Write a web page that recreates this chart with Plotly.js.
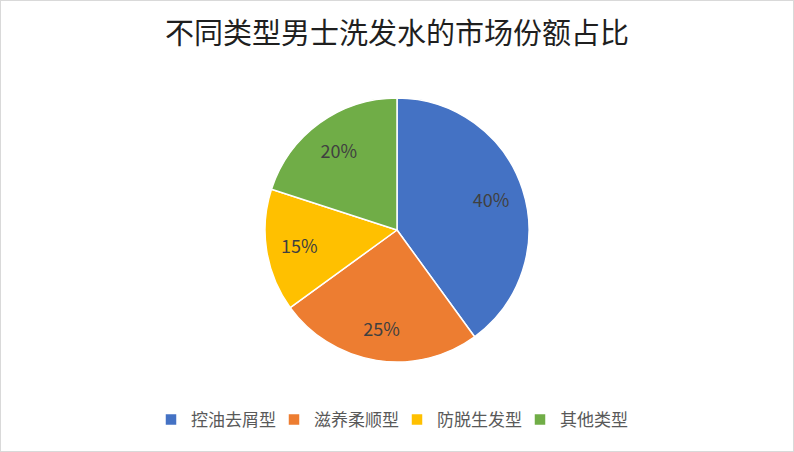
<!DOCTYPE html>
<html>
<head>
<meta charset="utf-8">
<script src="https://cdn.plot.ly/plotly-3.0.1.min.js"></script>
<style>
  html, body { margin: 0; padding: 0; background: #fff; }
  #chart { width: 794px; height: 452px; box-sizing: border-box; border: 1px solid #d9d9d9; }
</style>
</head>
<body>
<div id="chart"></div>
<script>
const categories = ['控油去屑型', '滋养柔顺型', '防脱生发型', '其他类型'];
const shares = [40, 25, 15, 20];
const sliceColors = ['#4472C4', '#ED7D31', '#FFC000', '#70AD47'];

const W = 792, H = 450;
const pieDomain = { x: [264 / W, 528 / W], y: [1 - 361 / H, 1 - 97 / H] };

// filled slices, no text
const slices = {
    type: 'pie',
    labels: categories,
    values: shares,
    sort: false,
    direction: 'clockwise',
    rotation: 0,
    marker: { colors: sliceColors, line: { color: '#ffffff', width: 1.5 } },
    textinfo: 'none',
    hoverinfo: 'none',
    domain: pieDomain
};

// transparent ring on top, only to put the labels out near the rim
const labelRing = {
    type: 'pie',
    labels: categories,
    values: shares,
    sort: false,
    direction: 'clockwise',
    rotation: 0,
    hole: 0.5,
    marker: { colors: categories.map(() => 'rgba(0,0,0,0)'), line: { width: 0 } },
    texttemplate: '%{value}%',
    textposition: 'inside',
    insidetextorientation: 'horizontal',
    textfont: { family: 'Noto Sans CJK SC, sans-serif', size: 18, color: '#404040' },
    hoverinfo: 'none',
    showlegend: false,
    domain: pieDomain
};

const layout = {
    width: W,
    height: H,
    margin: { t: 0, b: 0, l: 0, r: 0 },
    paper_bgcolor: '#ffffff',
    title: {
        text: '不同类型男士洗发水的市场份额占比',
        font: { family: 'Noto Sans CJK SC, serif', size: 29, weight: 'normal', color: '#1f1f1f' },
        x: 0.5, xanchor: 'center',
        y: 1 - 33 / H, yanchor: 'middle'
    },
    showlegend: true,
    legend: {
        orientation: 'h',
        x: 0.5, xanchor: 'center',
        y: 1 - 419 / H, yanchor: 'middle',
        font: { family: 'Noto Sans CJK SC, sans-serif', size: 17, color: '#595959' },
        itemwidth: 30,
        entrywidth: 78,
        entrywidthmode: 'pixels',
        traceorder: 'normal'
    }
};

Plotly.newPlot('chart', [slices, labelRing], layout, { displayModeBar: false, staticPlot: true });
</script>
</body>
</html>
